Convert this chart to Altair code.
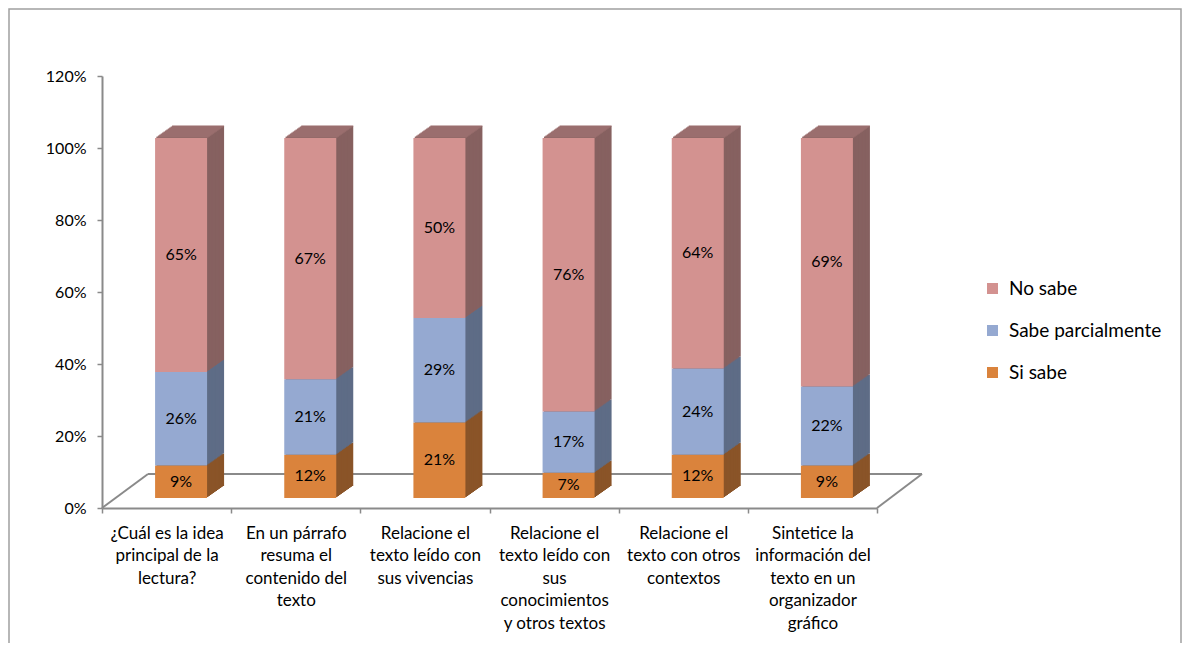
import altair as alt
import pandas as pd

categorias = [
    "¿Cuál es la idea\nprincipal de la\nlectura?",
    "En un párrafo\nresuma el\ncontenido del\ntexto",
    "Relacione el\ntexto leído con\nsus vivencias",
    "Relacione el\ntexto leído con\nsus\nconocimientos\ny otros textos",
    "Relacione el\ntexto con otros\ncontextos",
    "Sintetice la\ninformación del\ntexto en un\norganizador\ngráfico",
]
series = ["Si sabe", "Sabe parcialmente", "No sabe"]
si_sabe = [0.09, 0.12, 0.21, 0.07, 0.12, 0.09]
sabe_parcialmente = [0.26, 0.21, 0.29, 0.17, 0.24, 0.22]
no_sabe = [0.65, 0.67, 0.50, 0.76, 0.64, 0.69]
y_ticks = [0, 0.2, 0.4, 0.6, 0.8, 1.0, 1.2]

rows = []
for i, c in enumerate(categorias):
    for j, (s, vals) in enumerate(zip(series, [si_sabe, sabe_parcialmente, no_sabe])):
        rows.append({"cat": c, "serie": s, "orden": j, "valor": vals[i]})
df = pd.DataFrame(rows)

legend_order = ["No sabe", "Sabe parcialmente", "Si sabe"]
front_colors = ["#D39290", "#95A9D1", "#DA833C"]
side_colors = ["#866160", "#5E6C86", "#8A5428"]
top_color = "#A07472"
axis_gray = "#8A8A8A"
FONT = "Lato"

W, H = 775, 432
BAR = 52
XO = 14.5      # front face shift
YO = -10
DEPTH = 12
DX = 17.0 / 12

x_enc = alt.X(
    "cat:N",
    scale=alt.Scale(domain=categorias, paddingInner=0, paddingOuter=0),
    axis=alt.Axis(
        title=None, labelAngle=0,
        labelExpr="datum.value ? split(datum.value, '\\n') : ''",
        labelFont=FONT, labelFontSize=17, labelLineHeight=22.5, labelColor="black",
        domainColor=axis_gray, domainWidth=2, tickColor=axis_gray, tickWidth=1.5,
        tickSize=5, tickBand="extent", labelPadding=12, labelBaseline="top",
    ),
)
y_axis = alt.Axis(
    title=None, format=".0%", values=y_ticks, grid=False,
    labelFont=FONT, labelFontSize=16, labelColor="black", labelPadding=11,
    domainColor=axis_gray, domainWidth=2, tickColor=axis_gray, tickWidth=1.5, tickSize=5,
)
y_scale = alt.Scale(domain=[0, 1.2], nice=False)

base = alt.Chart(df).transform_stack(
    stack="valor", groupby=["cat"], sort=[alt.SortField("orden", order="ascending")],
    as_=["v0", "v1"],
).transform_calculate(mid="(datum.v0 + datum.v1) / 2")

one = alt.Data(values=[{}])

frame = alt.Chart(one).mark_rect(filled=False, stroke="#A0A0A0", strokeWidth=1.5).encode(
    x=alt.value(-93), x2=alt.value(1079), y=alt.value(-67), y2=alt.value(620)
)
floor_back = alt.Chart(one).mark_rule(color=axis_gray, strokeWidth=2).encode(
    x=alt.value(46), x2=alt.value(820), y=alt.value(398)
)
floor_left = alt.Chart(one).mark_rule(color=axis_gray, strokeWidth=2).encode(
    x=alt.value(0), x2=alt.value(46), y=alt.value(432), y2=alt.value(398)
)
floor_right = alt.Chart(one).mark_rule(color=axis_gray, strokeWidth=2).encode(
    x=alt.value(775), x2=alt.value(820), y=alt.value(432), y2=alt.value(398)
)

layers = [frame, floor_back, floor_left, floor_right]

# side faces (extrusion)
for k in range(DEPTH, 0, -1):
    layers.append(
        base.mark_bar(size=BAR, xOffset=XO + k * DX, x2Offset=XO + k * DX,
                      yOffset=YO - k, y2Offset=YO - k).encode(
            x=x_enc,
            y=alt.Y("v0:Q", scale=y_scale, axis=y_axis, stack=None),
            y2="v1:Q",
            color=alt.Color("serie:N", scale=alt.Scale(domain=legend_order, range=side_colors), legend=None),
        )
    )
# top faces
top_base = alt.Chart(df).transform_aggregate(total="sum(valor)", groupby=["cat"])
for k in range(DEPTH, 0, -1):
    layers.append(
        top_base.mark_tick(size=BAR, thickness=1.5, orient="horizontal", color=top_color,
                           xOffset=XO + k * DX, yOffset=YO - k).encode(
            x=x_enc,
            y=alt.Y("total:Q", scale=y_scale, axis=y_axis),
        )
    )
# front faces
layers.append(
    base.mark_bar(size=BAR, xOffset=XO, x2Offset=XO, yOffset=YO, y2Offset=YO).encode(
        x=x_enc,
        y=alt.Y("v0:Q", scale=y_scale, axis=y_axis, stack=None),
        y2="v1:Q",
        color=alt.Color(
            "serie:N",
            scale=alt.Scale(domain=legend_order, range=front_colors),
            legend=alt.Legend(
                title=None, orient="none", legendX=881, legendY=203,
                symbolType="square", symbolSize=121, symbolStrokeWidth=0, symbolOpacity=1,
                labelFont=FONT, labelFontSize=19, labelColor="black", labelOffset=7,
                rowPadding=22, padding=0,
            ),
        ),
    )
)
# labels
layers.append(
    base.mark_text(font=FONT, fontSize=16, color="black", xOffset=XO, yOffset=YO).encode(
        x=x_enc,
        y=alt.Y("mid:Q", scale=y_scale, axis=y_axis),
        text=alt.Text("valor:Q", format=".0%"),
    )
)

chart = alt.layer(*layers).resolve_scale(color="independent").properties(
    width=W, height=H,
    background="white",
    autosize=alt.AutoSizeParams(type="none"),
    padding={"left": 94, "top": 68, "right": 305, "bottom": 135},
).configure_view(stroke=None)

chart.save("out.html", embed_options={"renderer": "svg", "actions": False})
